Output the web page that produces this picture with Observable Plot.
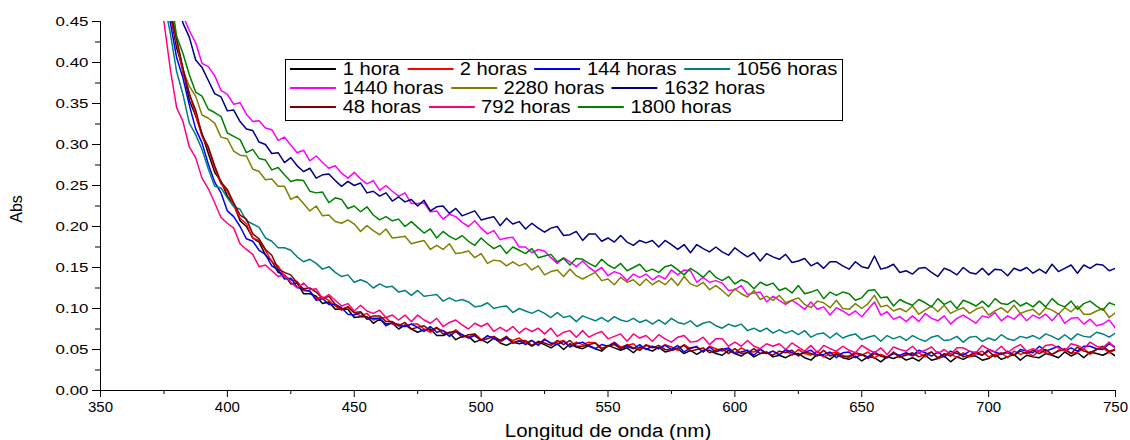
<!DOCTYPE html>
<html><head><meta charset="utf-8">
<script src="https://cdn.jsdelivr.net/npm/d3@7"></script>
<script src="https://cdn.jsdelivr.net/npm/@observablehq/plot@0.6"></script>
<style>
html,body{margin:0;padding:0;background:#fff;}
#wrap{position:relative;width:1130px;height:440px;font-family:"Liberation Sans",Arial,sans-serif;color:#000;}
#wrap svg{position:absolute;left:0;top:0;}
.xtitle{position:absolute;left:608px;top:431px;font-size:18px;transform:translate(-50%,-50%) scaleX(1.14);white-space:nowrap;}
.ytitle{position:absolute;left:17px;top:209px;font-size:16px;transform:translate(-50%,-50%) rotate(-90deg);white-space:nowrap;}
.legend{position:absolute;left:285px;top:59px;width:556px;height:60px;border:1px solid #000;background:#fff;}
.row{position:absolute;left:4px;height:20px;display:flex;align-items:center;transform-origin:left center;transform:scaleX(1.12);white-space:nowrap;font-size:18px;line-height:20px;}
.sw{display:inline-block;width:41px;height:1.5px;margin-right:6px;}
.lab{margin-right:6.5px;}
</style>
</head><body>
<div id="wrap"></div>
<script>
const wavelengths = [
  370,372.5,375,377.5,380,382.5,385,387.5,390,392.5,395,397.5,400,402.5,405,407.5,410,412.5,415,417.5,
  420,422.5,425,427.5,430,432.5,435,437.5,440,442.5,445,447.5,450,452.5,455,457.5,460,462.5,465,467.5,
  470,472.5,475,477.5,480,482.5,485,487.5,490,492.5,495,497.5,500,502.5,505,507.5,510,512.5,515,517.5,
  520,522.5,525,527.5,530,532.5,535,537.5,540,542.5,545,547.5,550,552.5,555,557.5,560,562.5,565,567.5,
  570,572.5,575,577.5,580,582.5,585,587.5,590,592.5,595,597.5,600,602.5,605,607.5,610,612.5,615,617.5,
  620,622.5,625,627.5,630,632.5,635,637.5,640,642.5,645,647.5,650,652.5,655,657.5,660,662.5,665,667.5,
  670,672.5,675,677.5,680,682.5,685,687.5,690,692.5,695,697.5,700,702.5,705,707.5,710,712.5,715,717.5,
  720,722.5,725,727.5,730,732.5,735,737.5,740,742.5,745,747.5,750];

const series = ["1 hora","2 horas","144 horas","1056 horas","1440 horas","2280 horas","1632 horas","48 horas","792 horas","1800 horas"];

const abs1h = [
  .562,.527,.504,.460,.418,.392,.354,.335,.313,.289,.266,.255,.237,.227,.207,.200,.186,.181,.165,.158,
  .144,.141,.130,.131,.118,.118,.115,.106,.108,.099,.099,.099,.089,.090,.090,.082,.087,.081,.082,.075,
  .080,.075,.071,.074,.075,.067,.067,.070,.062,.066,.066,.059,.062,.058,.064,.058,.055,.059,.057,.059,
  .054,.059,.056,.052,.057,.050,.057,.053,.051,.055,.051,.048,.055,.052,.049,.052,.046,.053,.051,.048,
  .053,.047,.049,.051,.045,.049,.044,.049,.049,.045,.043,.049,.045,.042,.047,.041,.045,.047,.041,.043,
  .040,.044,.045,.040,.037,.044,.042,.038,.044,.040,.038,.042,.036,.041,.040,.035,.041,.039,.042,.037,
  .040,.036,.043,.037,.039,.042,.035,.041,.038,.042,.042,.037,.039,.044,.038,.041,.044,.037,.043,.041,
  .040,.045,.043,.040,.047,.042,.046,.040,.047,.045,.043,.047,.042];
const abs2h = [
  .560,.536,.503,.459,.424,.387,.363,.336,.310,.295,.271,.252,.243,.226,.210,.203,.186,.183,.171,.157,
  .152,.139,.135,.133,.122,.121,.112,.114,.110,.103,.098,.102,.095,.091,.094,.086,.088,.089,.081,.081,
  .078,.081,.081,.075,.071,.076,.073,.069,.074,.068,.065,.069,.062,.066,.065,.059,.064,.061,.064,.058,
  .061,.056,.063,.057,.059,.061,.054,.059,.056,.059,.058,.052,.054,.059,.053,.055,.057,.050,.056,.053,
  .051,.056,.053,.049,.056,.051,.054,.047,.054,.051,.048,.051,.046,.052,.048,.047,.051,.045,.048,.044,
  .049,.043,.050,.045,.043,.048,.041,.045,.047,.043,.040,.045,.043,.047,.040,.044,.041,.046,.040,.045,
  .042,.046,.041,.047,.039,.044,.045,.040,.046,.041,.045,.048,.041,.044,.046,.040,.048,.044,.047,.042,
  .049,.046,.044,.049,.051,.045,.047,.051,.044,.050,.052,.046,.050];
const abs144h = [
  .542,.519,.493,.449,.406,.381,.348,.319,.302,.276,.254,.241,.219,.212,.200,.185,.182,.171,.166,.152,
  .147,.136,.137,.126,.123,.121,.110,.112,.105,.105,.101,.093,.092,.095,.087,.088,.088,.079,.083,.079,
  .078,.081,.077,.072,.078,.071,.073,.066,.072,.068,.064,.067,.061,.067,.063,.061,.064,.058,.061,.056,
  .061,.055,.062,.058,.056,.060,.053,.057,.059,.054,.051,.056,.054,.058,.051,.054,.051,.056,.050,.054,
  .051,.055,.050,.055,.047,.052,.053,.047,.053,.047,.050,.052,.045,.047,.049,.043,.050,.045,.048,.043,
  .050,.046,.043,.047,.049,.043,.044,.047,.040,.046,.047,.040,.044,.041,.047,.042,.040,.045,.043,.046,
  .043,.049,.046,.042,.047,.041,.048,.045,.043,.048,.045,.043,.050,.047,.044,.048,.043,.050,.048,.046,
  .054,.048,.051,.054,.048,.052,.048,.054,.054,.051,.050,.057,.053];
const abs1056h = [
  .534,.501,.475,.436,.389,.361,.326,.312,.294,.270,.249,.247,.235,.224,.221,.207,.203,.199,.186,.182,
  .174,.174,.171,.163,.157,.160,.155,.148,.151,.144,.139,.141,.132,.135,.132,.125,.130,.126,.127,.120,
  .122,.116,.122,.115,.116,.117,.109,.113,.109,.111,.108,.102,.103,.107,.100,.102,.103,.095,.100,.097,
  .094,.098,.094,.089,.095,.089,.091,.084,.091,.088,.085,.089,.084,.090,.086,.084,.088,.083,.086,.081,
  .086,.081,.088,.083,.081,.085,.078,.082,.084,.079,.076,.081,.078,.081,.073,.076,.072,.076,.070,.074,
  .070,.073,.068,.073,.065,.069,.070,.064,.070,.064,.067,.069,.062,.065,.067,.060,.067,.063,.066,.061,
  .067,.063,.060,.065,.067,.061,.062,.066,.059,.065,.066,.060,.064,.061,.068,.063,.061,.066,.064,.067,
  .063,.069,.066,.062,.068,.062,.069,.066,.065,.071,.069,.065,.070];
const abs1440h = [
  .624,.580,.536,.513,.486,.457,.439,.424,.399,.395,.384,.366,.361,.349,.351,.337,.328,.329,.320,.318,
  .305,.309,.299,.290,.293,.280,.286,.278,.271,.274,.265,.259,.266,.258,.252,.256,.244,.250,.243,.237,
  .241,.228,.228,.229,.218,.219,.209,.215,.212,.205,.200,.207,.198,.191,.195,.184,.186,.187,.175,.175,
  .168,.172,.170,.162,.155,.162,.157,.151,.158,.150,.145,.150,.140,.145,.142,.134,.142,.138,.142,.135,
  .140,.136,.147,.141,.147,.146,.132,.138,.132,.134,.131,.122,.123,.128,.117,.119,.120,.108,.115,.110,
  .105,.110,.105,.099,.108,.099,.102,.092,.101,.097,.092,.097,.090,.099,.108,.092,.096,.087,.090,.084,
  .091,.084,.094,.088,.085,.091,.081,.088,.092,.087,.082,.091,.089,.095,.085,.091,.087,.094,.085,.092,
  .088,.093,.085,.094,.082,.088,.089,.081,.087,.079,.081,.086,.076];
const abs2280h = [
  .604,.562,.526,.476,.426,.391,.371,.359,.336,.332,.326,.309,.307,.292,.287,.286,.270,.267,.257,.258,
  .249,.249,.233,.237,.228,.219,.225,.213,.214,.206,.204,.208,.203,.194,.201,.195,.190,.197,.186,.187,
  .188,.179,.181,.183,.172,.177,.172,.179,.167,.168,.170,.162,.167,.155,.159,.158,.152,.157,.152,.155,
  .147,.152,.141,.145,.147,.139,.148,.140,.136,.140,.144,.134,.136,.129,.138,.132,.135,.128,.136,.129,
  .134,.129,.137,.128,.139,.130,.127,.132,.123,.128,.122,.115,.124,.118,.114,.122,.111,.115,.110,.116,
  .107,.110,.113,.105,.101,.109,.107,.101,.110,.100,.099,.106,.100,.106,.116,.102,.104,.097,.100,.096,
  .103,.093,.098,.103,.096,.104,.094,.098,.101,.094,.099,.102,.092,.097,.101,.095,.104,.094,.097,.099,
  .092,.101,.098,.093,.101,.096,.103,.093,.093,.097,.100,.089,.095];
const abs1632h = [
  .637,.594,.540,.501,.476,.448,.431,.403,.394,.378,.362,.358,.341,.342,.328,.319,.317,.303,.300,.289,
  .290,.278,.284,.274,.267,.271,.259,.263,.264,.256,.249,.255,.250,.253,.241,.243,.237,.241,.231,.236,
  .230,.233,.225,.232,.219,.224,.225,.216,.222,.213,.216,.219,.208,.210,.212,.201,.210,.203,.206,.197,
  .204,.198,.193,.198,.200,.189,.190,.194,.183,.191,.191,.182,.186,.181,.189,.181,.177,.183,.180,.183,
  .175,.183,.178,.172,.178,.168,.178,.173,.169,.175,.169,.165,.174,.168,.163,.168,.158,.167,.163,.160,
  .166,.156,.158,.161,.152,.156,.149,.157,.157,.152,.148,.157,.151,.149,.164,.148,.150,.154,.144,.146,
  .142,.149,.150,.144,.139,.149,.146,.141,.150,.144,.142,.149,.141,.148,.147,.140,.149,.146,.150,.143,
  .148,.143,.154,.145,.149,.153,.143,.153,.149,.154,.153,.146,.149];
const abs48h = [
  .566,.532,.507,.461,.429,.393,.361,.342,.312,.297,.274,.254,.245,.229,.214,.209,.191,.185,.172,.165,
  .148,.144,.141,.131,.124,.125,.120,.112,.115,.105,.099,.102,.095,.096,.088,.091,.091,.084,.084,.079,
  .083,.075,.077,.079,.073,.077,.069,.071,.072,.065,.068,.069,.061,.063,.066,.061,.066,.058,.060,.061,
  .055,.060,.058,.055,.061,.056,.061,.054,.054,.056,.058,.050,.054,.056,.051,.056,.052,.049,.055,.052,
  .055,.050,.049,.052,.055,.048,.050,.052,.046,.049,.051,.045,.051,.045,.046,.051,.045,.046,.043,.048,
  .046,.049,.042,.047,.045,.042,.049,.042,.045,.041,.042,.046,.044,.039,.045,.042,.040,.047,.041,.043,
  .046,.041,.044,.047,.040,.045,.042,.048,.041,.043,.047,.043,.048,.041,.045,.046,.043,.048,.045,.049,
  .045,.050,.044,.048,.050,.045,.053,.048,.046,.050,.054,.048,.050];
const abs792h = [
  .521,.479,.450,.392,.345,.328,.297,.284,.259,.246,.229,.211,.204,.198,.179,.172,.166,.151,.153,.146,
  .139,.141,.132,.125,.131,.123,.124,.112,.117,.110,.103,.106,.097,.104,.097,.094,.098,.089,.092,.086,
  .092,.084,.092,.086,.082,.088,.078,.083,.086,.080,.075,.082,.078,.082,.072,.077,.072,.078,.070,.076,
  .072,.076,.069,.076,.066,.071,.073,.065,.073,.065,.069,.072,.063,.066,.069,.060,.069,.064,.067,.060,
  .068,.063,.059,.065,.067,.059,.060,.065,.056,.063,.063,.054,.059,.054,.061,.054,.051,.057,.054,.057,
  .050,.058,.053,.048,.055,.046,.055,.051,.048,.054,.049,.046,.055,.050,.046,.052,.044,.053,.050,.048,
  .054,.046,.049,.053,.045,.050,.044,.052,.052,.048,.046,.055,.050,.047,.054,.046,.052,.056,.048,.051,
  .048,.055,.056,.052,.048,.057,.055,.051,.059,.054,.052,.059,.051];
const abs1800h = [
  .599,.564,.517,.485,.432,.411,.385,.364,.359,.343,.339,.334,.314,.310,.306,.290,.294,.283,.281,.269,
  .272,.263,.255,.257,.256,.243,.241,.242,.229,.235,.233,.222,.225,.218,.224,.214,.208,.212,.207,.209,
  .200,.206,.199,.192,.197,.186,.194,.188,.184,.189,.182,.177,.186,.179,.173,.177,.167,.175,.171,.167,
  .173,.162,.164,.166,.157,.161,.153,.161,.160,.155,.151,.160,.153,.149,.155,.146,.150,.154,.145,.148,
  .144,.151,.153,.147,.141,.149,.144,.138,.146,.138,.134,.139,.130,.135,.132,.124,.132,.128,.131,.122,
  .125,.119,.128,.118,.120,.123,.112,.120,.116,.120,.118,.110,.113,.122,.123,.113,.114,.103,.111,.107,
  .104,.111,.107,.102,.112,.105,.109,.100,.110,.107,.103,.109,.102,.112,.106,.105,.110,.103,.107,.102,
  .109,.102,.112,.105,.102,.109,.099,.106,.109,.103,.098,.107,.104];

const xMajorTicks = [350,400,450,500,550,600,650,700,750];
const xMinorTicks = [375,425,475,525,575,625,675,725];
const yMajorTicks = [0.00,0.05,0.10,0.15,0.20,0.25,0.30,0.35,0.40,0.45];
const yMinorTicks = [0.025,0.075,0.125,0.175,0.225,0.275,0.325,0.375,0.425];

const legendRows = [["1 hora","2 horas","144 horas","1056 horas"],["1440 horas","2280 horas","1632 horas"],["48 horas","792 horas","1800 horas"]];

const palette = ["#000000","#ff0000","#0000ff","#008080","#ff00ff","#808000","#000080","#800000","#ff0080","#008000"];

const seriesValues = [abs1h,abs2h,abs144h,abs1056h,abs1440h,abs2280h,abs1632h,abs48h,abs792h,abs1800h];
const table = series.flatMap((s,i)=>wavelengths.map((w,j)=>({series:s, nm:w, abs:seriesValues[i][j]})));

const plot = Plot.plot({
  width:1130, height:440,
  marginTop:21, marginRight:15, marginBottom:50, marginLeft:100,
  x:{domain:[350,750]},
  y:{domain:[0,0.45]},
  color:{domain:series, range:palette},
  style:{fontFamily:'"Liberation Sans", Arial, sans-serif', color:"#000", background:"transparent", overflow:"visible"},
  marks:[
    Plot.line(table,{x:"nm", y:"abs", z:"series", stroke:"series", strokeWidth:1.5, clip:true}),
    Plot.ruleX([350],{stroke:"#000"}),
    Plot.ruleY([0],{stroke:"#000"}),
    Plot.axisX({ticks:xMinorTicks, tickSize:4, tickFormat:()=>"", label:null}),
    Plot.axisX({ticks:xMajorTicks, tickSize:7, tickPadding:4, tickFormat:d=>String(d), fontSize:15, label:null}),
    Plot.axisY({ticks:yMinorTicks, tickSize:5, tickFormat:()=>"", label:null}),
    Plot.axisY({ticks:yMajorTicks, tickSize:8, tickPadding:4, tickFormat:d3.format(".2f"), fontSize:13, label:null})
  ]
});

plot.querySelectorAll('g[aria-label="y-axis tick label"] text').forEach(t=>{
  const tr = t.getAttribute("transform") || "";
  const x = +(t.getAttribute("x") || 0);
  t.setAttribute("transform", `${tr} translate(${x},0) scale(1.3,1) translate(${-x},0)`);
});

const wrap = document.getElementById("wrap");
wrap.appendChild(plot);

const xt = document.createElement("div"); xt.className = "xtitle"; xt.textContent = "Longitud de onda (nm)"; wrap.appendChild(xt);
const yt = document.createElement("div"); yt.className = "ytitle"; yt.textContent = "Abs"; wrap.appendChild(yt);

const leg = document.createElement("div"); leg.className = "legend"; wrap.appendChild(leg);
const rowTops = [-1, 18, 37];
legendRows.forEach((row,r)=>{
  const rd = document.createElement("div"); rd.className = "row"; rd.style.top = rowTops[r] + "px";
  row.forEach(name=>{
    const sw = document.createElement("span"); sw.className = "sw"; sw.style.background = palette[series.indexOf(name)];
    const lb = document.createElement("span"); lb.className = "lab"; lb.textContent = name;
    rd.appendChild(sw); rd.appendChild(lb);
  });
  leg.appendChild(rd);
});
</script>
</body></html>
